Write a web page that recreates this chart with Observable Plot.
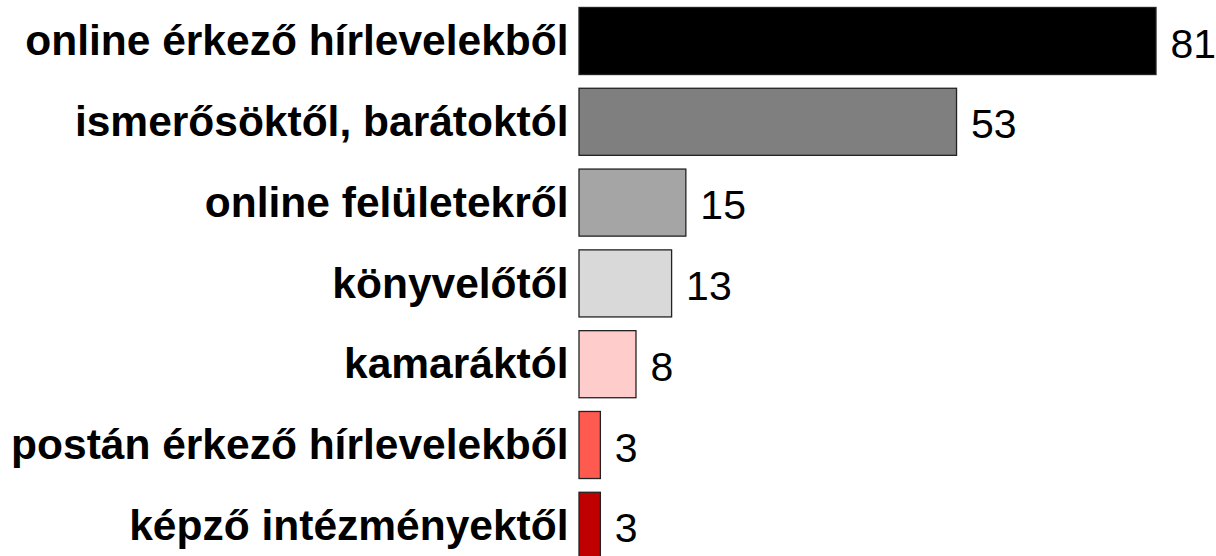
<!DOCTYPE html>
<html>
<head>
<meta charset="utf-8">
<script src="https://cdn.jsdelivr.net/npm/d3@7"></script>
<script src="https://cdn.jsdelivr.net/npm/@observablehq/plot@0.6"></script>
<style>
  html, body { margin: 0; padding: 0; background: #fff; overflow: hidden; }
  #chart svg { overflow: visible; }
</style>
</head>
<body>
<div id="chart"></div>
<script>
const categories = [
  "online érkező hírlevelekből",
  "ismerősöktől, barátoktól",
  "online felületekről",
  "könyvelőtől",
  "kamaráktól",
  "postán érkező hírlevelekből",
  "képző intézményektől"
];
const values = [81, 53, 15, 13, 8, 3, 3];
const colors = ["#000000", "#7f7f7f", "#a5a5a5", "#d9d9d9", "#ffcccc", "#ff5a50", "#c00000"];

const data = categories.map((c, i) => ({category: c, value: values[i], color: colors[i]}));
const font = "'Liberation Sans', Arial, sans-serif";

const chart = Plot.plot({
  width: 1216,
  height: 556,
  marginLeft: 579,
  marginRight: 60,
  marginTop: 0,
  marginBottom: 0,
  style: {fontFamily: font, background: "#fff", overflow: "visible"},
  x: {domain: [0, 81], axis: null},
  y: {domain: categories, range: [0.6, 566.2], paddingInner: 0.17, paddingOuter: 0.085, round: false, label: null},
  marks: [
    Plot.barX(data, {
      y: "category", x: "value",
      fill: d => d.color,
      stroke: "#222", strokeWidth: 1.3
    }),
    Plot.text(data, {
      y: "category", x: "value", text: d => String(d.value),
      textAnchor: "start", dx: 14, dy: 3,
      fontSize: 41, fill: "#000", fontFamily: font
    }),
    Plot.axisY({
      tickSize: 0, tickPadding: 11, label: null,
      fontSize: 42.5, fontWeight: "bold", fill: "#000", fontFamily: font
    })
  ]
});
document.getElementById("chart").appendChild(chart);
</script>
</body>
</html>
